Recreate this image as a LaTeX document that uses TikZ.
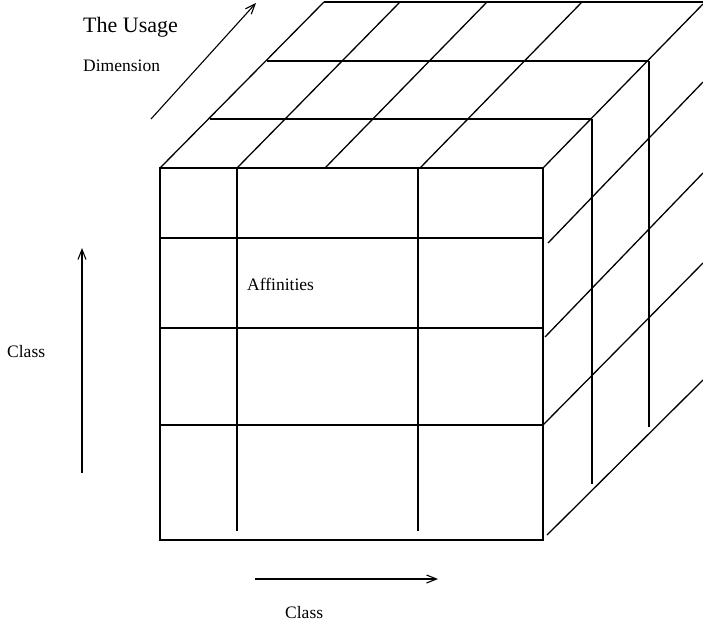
\documentclass[tikz,border=0pt]{standalone}
\usepackage{fontspec}
\setmainfont{Liberation Serif}
\usepackage{tikz}
\usetikzlibrary{arrows.meta}
\tikzset{
  cubeline/.style={line width=1.3pt, color=black},
  axisarrow/.style={-{Straight Barb[length=10pt, width=8pt, line width=1.1pt]}, line width=1.1pt, color=black},
  bigtext/.style={anchor=base west, inner sep=0pt, font=\fontsize{22}{26}\selectfont},
  smalltext/.style={anchor=base west, inner sep=0pt, font=\fontsize{17.5}{21}\selectfont}
}

\begin{document}
\begin{tikzpicture}[x=1pt, y=-1pt]
  \useasboundingbox (0,0) rectangle (703,627);

  % Front face
  \draw[cubeline] (160,168) rectangle (543,540);
  \draw[cubeline] (160,238) -- (543,238);
  \draw[cubeline] (160,328) -- (543,328);
  \draw[cubeline] (160,425) -- (543,425);
  \draw[cubeline] (237,168) -- (237,531);
  \draw[cubeline] (418,168) -- (418,531);

  % Top face
  \draw[cubeline] (210,119) -- (592,119);
  \draw[cubeline] (267,61) -- (649,61);
  \draw[cubeline] (324,2) -- (703,2);
  \draw[cubeline] (160,168) -- (324,2);
  \draw[cubeline] (237,168) -- (400,2);
  \draw[cubeline] (325,168) -- (487,2);
  \draw[cubeline] (420,168) -- (582,2);
  \draw[cubeline] (543,168) -- (703,4);

  % Right face
  \draw[cubeline] (592,119) -- (592,484);
  \draw[cubeline] (649,61) -- (649,427);
  \draw[cubeline] (548,243) -- (703,82);
  \draw[cubeline] (545,337) -- (703,173);
  \draw[cubeline] (543,425) -- (703,263);
  \draw[cubeline] (547,535) -- (703,380);

  % Axes
  \draw[axisarrow] (151,119) -- (256,3);
  \draw[axisarrow] (82,473) -- (82,248);
  \draw[axisarrow] (255,579) -- (438,579);

  % Labels
  \node[bigtext] (usage) at (83,32) {The Usage};
  \node[smalltext] (dimension) at (83,71) {Dimension};
  \node[smalltext] (classleft) at (7,357) {Class};
  \node[smalltext] (affinities) at (247,290) {Affinities};
  \node[smalltext] (classbottom) at (285,618) {Class};
\end{tikzpicture}
\end{document}
